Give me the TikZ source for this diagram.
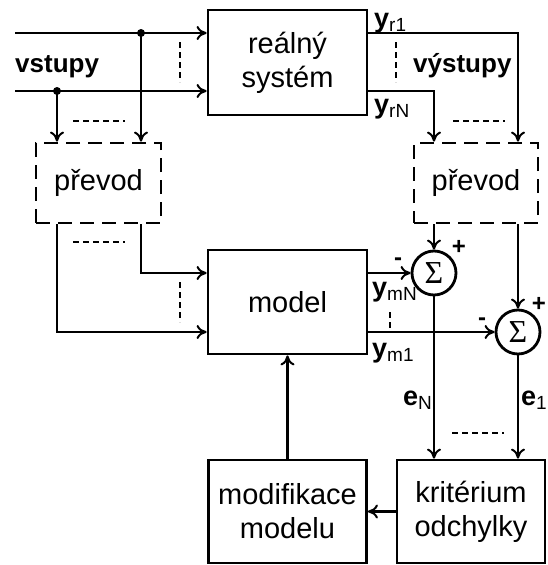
\documentclass[tikz,border=0pt]{standalone}
\usepackage{fontspec}
\setmainfont{Liberation Sans}
\newfontfamily\sigmafont{Liberation Serif}
\usetikzlibrary{arrows.meta}
\begin{document}
\begin{tikzpicture}[x=1pt,y=-1pt,
  lw/.style={line width=2.8pt},
  arr/.style={lw,-{To[length=10pt,width=14pt,line width=2pt]}},
  blk/.style={draw,lw,rectangle,inner sep=0pt,align=center,font=\fontsize{29}{34}\selectfont},
  dblk/.style={blk,dash pattern=on 14pt off 8pt},
  sumc/.style={draw,lw,circle,minimum size=44pt,inner sep=0pt,font=\sigmafont\fontsize{32}{32}\selectfont},
  dotl/.style={line width=2.8pt,dash pattern=on 6pt off 4pt},
  lbl/.style={anchor=base west,inner sep=0pt,font=\fontsize{27}{27}\selectfont},
  sgn/.style={anchor=base,inner sep=0pt,font=\bfseries\fontsize{24}{24}\selectfont}
]
\useasboundingbox (0,0) rectangle (547,565);
\newcommand\sbs[1]{\raisebox{-4pt}{\fontsize{19}{19}\selectfont #1}}

% blocks
\node[blk,minimum width=159pt,minimum height=105pt] (real) at (287.5,62.5) {reálný\\systém};
\node[blk,minimum width=159pt,minimum height=104pt] (model) at (287.5,302) {model};
\node[dblk,minimum width=125pt,minimum height=80pt] (prevL) at (98.5,183) {převod};
\node[dblk,minimum width=124pt,minimum height=80pt] (prevR) at (476,183) {převod};
\node[blk,minimum width=158pt,minimum height=103pt] (modif) at (287.5,511.5) {modifikace\\modelu};
\node[blk,minimum width=148pt,minimum height=103pt] (krit) at (471,511.5) {kritérium\\odchylky};
\node[sumc] (s1) at (434,273) {Σ};
\node[sumc] (s2) at (518,332) {Σ};

% coordinates
\coordinate (in1) at (15,33);
\coordinate (in2) at (15,91);
\coordinate (d1) at (141,33);
\coordinate (d2) at (57,91);

% inputs
\draw[arr] (in1) -- (in1 -| real.west);
\draw[arr] (in2) -- (in2 -| real.west);
\fill (d1) circle (4pt);
\fill (d2) circle (4pt);
\draw[arr] (d1) -- (d1 |- prevL.north);
\draw[arr] (d2) -- (d2 |- prevL.north);
\draw[arr] (d1 |- prevL.south) |- (model.west |- s1);
\draw[arr] (d2 |- prevL.south) |- (model.west |- s2);

% outputs of real system
\draw[arr] (real.east |- in1) -| (s2 |- prevR.north);
\draw[arr] (real.east |- in2) -| (s1 |- prevR.north);
\draw[arr] (s1 |- prevR.south) -- (s1.north);
\draw[arr] (s2 |- prevR.south) -- (s2.north);

% model outputs
\draw[arr] (model.east |- s1) -- (s1.west);
\draw[arr] (model.east |- s2) -- (s2.west);

% errors
\draw[arr] (s1.south) -- (s1 |- krit.north);
\draw[arr] (s2.south) -- (s2 |- krit.north);
\draw[arr] (krit.west) -- (modif.east |- krit.west);
\draw[arr] (modif.north) -- (modif.north |- model.south);

% dotted continuation marks
\draw[dotl] (180,42) -- (180,82);
\draw[dotl] (73,121) -- (125,121);
\draw[dotl] (73,242) -- (125,242);
\draw[dotl] (180,282) -- (180,322);
\draw[dotl] (396,42) -- (396,82);
\draw[dotl] (453,121) -- (505,121);
\draw[dotl] (390,312) -- (390,328);
\draw[dotl] (452,433) -- (504,433);

% labels
\node[lbl,font=\bfseries\fontsize{26}{26}\selectfont] (vst) at (15,72) {vstupy};
\node[lbl,font=\bfseries\fontsize{26}{26}\selectfont] (vyst) at (413,72) {výstupy};
\node[lbl] (lyr1) at (374,27) {\textbf{y}\sbs{r1}};
\node[lbl] (lyrN) at (374,113) {\textbf{y}\sbs{rN}};
\node[lbl] (lymN) at (372,296) {\textbf{y}\sbs{mN}};
\node[lbl] (lym1) at (372,357) {\textbf{y}\sbs{m1}};
\node[lbl] (leN) at (403,405) {\textbf{e}\sbs{N}};
\node[lbl] (le1) at (521,405) {\textbf{e}\sbs{1}};
\node[sgn] (m1) at (398,265) {-};
\node[sgn] (p1) at (459,254) {+};
\node[sgn] (m2) at (482,325) {-};
\node[sgn] (p2) at (539,311) {+};
\end{tikzpicture}
\end{document}
